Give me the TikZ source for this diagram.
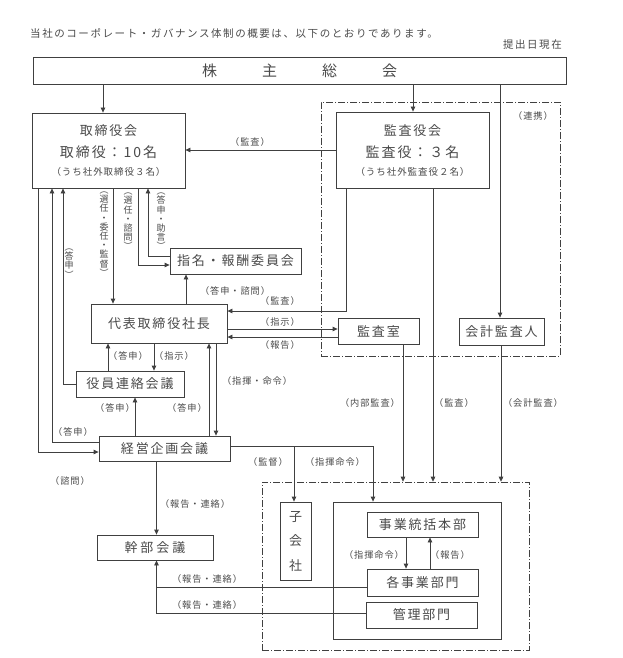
\documentclass[tikz,border=0pt]{standalone}
\usepackage{fontspec}
\usepackage{graphicx}
\setmainfont{Noto Sans CJK JP}
\newfontfamily\jpbox[LetterSpace=14]{Noto Sans CJK JP}
\newfontfamily\jplab[LetterSpace=10]{Noto Sans CJK JP}
\newfontfamily\jphead[LetterSpace=15]{Noto Sans CJK JP}
\newfontfamily\jpplain{Noto Sans CJK JP}
\usetikzlibrary{arrows.meta,calc}
\definecolor{linec}{HTML}{404040}
\definecolor{textc}{HTML}{4A4A4A}
\newcommand\vo{︵}
\newcommand\vc{︶}
\tikzset{
  ln/.style={draw=linec, line width=0.8pt},
  arr/.style={ln, -{Triangle[length=5pt,width=4.5pt]}},
  box/.style={draw=linec, line width=0.8pt, rectangle, inner sep=0pt, text=textc, font=\jpbox\fontsize{13}{15}\selectfont},
  lab/.style={text=textc, inner sep=0pt, font=\jplab\fontsize{9.2}{10}\selectfont},
  vlab/.style={text=textc, inner sep=0pt, align=center, font=\jpplain\fontsize{9}{9.2}\selectfont},
  head/.style={text=textc, inner sep=0pt, font=\jphead\fontsize{10.5}{12}\selectfont},
  ddbox/.style={draw=linec, line width=0.6pt, dash pattern=on 7pt off 2pt on 1pt off 2pt, rectangle, inner sep=0pt}
}
\begin{document}
\begin{tikzpicture}[x=1pt,y=-1pt]
\fill[white] (0,0) rectangle (622,658);
\useasboundingbox (0,0) rectangle (622,658);

% helper coordinates
\foreach \v in {38,52,63,103,108,113,135,138,148,154,186,209,216,294,346,373,403,406,413,430,433,500,501}{\coordinate (x\v) at (\v,0);}
\coordinate (x156) at (156.5,0);
\foreach \v in {150,256,265,311,329,337,442,446,452,587,613}{\coordinate (y\v) at (0,\v);}

% header
\node[head, anchor=west] (hd) at (30,33) {当社のコーポレート・ガバナンス体制の概要は、以下のとおりであります。};
\node[head, anchor=east] (dt) at (562,45) {提出日現在};

% dash-dot frames
\node[ddbox, minimum width=239pt, minimum height=254pt] (d1) at (440.5,229) {};
\node[ddbox, minimum width=267pt, minimum height=168pt] (d2) at (395.5,566) {};

% boxes
\node[box, minimum width=533pt, minimum height=27pt, font=\jpplain\fontsize{15}{17}\selectfont] (sh) at (299.5,70.5) {株\hspace{45pt}主\hspace{45pt}総\hspace{45pt}会};
\node[box, minimum width=153pt, minimum height=75pt, align=center, font=\jpbox\fontsize{13}{18}\selectfont] (tb) at (108.5,150.5)
  {取締役会\\[4pt]{\fontsize{14}{16}\selectfont 取締役：10名}\\{\jplab\fontsize{9.5}{11}\selectfont （うち社外取締役３名）}};
\node[box, minimum width=153pt, minimum height=76pt, align=center, font=\jpbox\fontsize{13}{18}\selectfont] (kb) at (412.5,150)
  {監査役会\\[4pt]{\fontsize{14}{16}\selectfont 監査役：３名}\\{\jplab\fontsize{9.5}{11}\selectfont （うち社外監査役２名）}};
\node[box, minimum width=131pt, minimum height=26pt] (sm) at (235.5,261) {指名・報酬委員会};
\node[box, minimum width=136pt, minimum height=39pt] (dh) at (159,323.5) {代表取締役社長};
\node[box, minimum width=81pt, minimum height=26pt] (ks) at (378.5,331) {監査室};
\node[box, minimum width=85pt, minimum height=27pt] (kk) at (501.5,331.5) {会計監査人};
\node[box, minimum width=108pt, minimum height=26pt] (yr) at (130,384) {役員連絡会議};
\node[box, minimum width=131pt, minimum height=25pt] (kp) at (164.5,448.5) {経営企画会議};
\node[box, minimum width=116pt, minimum height=25pt] (kbk) at (155,547.5) {幹\hspace{3pt}部\hspace{3pt}会\hspace{3pt}議};
\node[box, minimum width=31pt, minimum height=78pt, align=center, font=\jpplain\fontsize{13}{24.5}\selectfont] (kg) at (295.5,541) {子\\会\\社};
\node[box, minimum width=168pt, minimum height=137pt] (ib) at (417,570.5) {};
\node[box, minimum width=111pt, minimum height=25pt] (jt) at (422.5,524.5) {事業統括本部};
\node[box, minimum width=111pt, minimum height=27pt] (kj) at (422.5,582.5) {各事業部門};
\node[box, minimum width=111pt, minimum height=26pt] (kr) at (421.5,615) {管理部門};

% connectors
\draw[arr] (sh.south -| x103) -- (tb.north -| x103);
\draw[arr] (sh.south -| x413) -- (kb.north -| x413);
\draw[arr] (sh.south -| x500) -- (kk.north -| x500);
\draw[arr] (kb.west |- y150) -- (tb.east |- y150);
\draw[arr] (tb.south -| x38) |- (kp.west |- y452);
\draw[arr] (kp.west |- y442) -| (tb.south -| x52);
\draw[arr] (yr.west) -| (tb.south -| x63);
\draw[arr] (tb.south -| x113) -- (dh.north -| x113);
\draw[arr] (tb.south -| x138) |- (sm.west |- y265);
\draw[arr] (sm.west |- y256) -| (tb.south -| x148);
\draw[arr] (dh.north -| x186) -- (sm.south -| x186);
\draw[arr] (kb.south -| x346) |- (dh.east |- y311);
\draw[arr] (dh.east |- y329) -- (ks.west |- y329);
\draw[arr] (ks.west |- y337) -- (dh.east |- y337);
\draw[arr] (dh.south -| x154) -- (yr.north -| x154);
\draw[arr] (yr.north -| x108) -- (dh.south -| x108);
\draw[arr] (kp.north -| x135) -- (yr.south -| x135);
\draw[arr] (kp.north -| x209) -- (dh.south -| x209);
\draw[arr] (dh.south -| x216) -- (kp.north -| x216);
\draw[arr] (kp.south -| x156) -- (kbk.north -| x156);
\draw[arr] (kp.east |- y446) -| (ib.north -| x373);
\draw[arr] (y446 -| x294) -- (kg.north -| x294);
\draw[arr] (kb.south -| x433) -- (d2.north -| x433);
\draw[arr] (ks.south -| x403) -- (d2.north -| x403);
\draw[arr] (kk.south -| x501) -- (d2.north -| x501);
\draw[arr] (jt.south -| x406) -- (kj.north -| x406);
\draw[arr] (kj.north -| x430) -- (jt.south -| x430);
\draw[arr] (kj.west |- y587) -| (kbk.south -| x156);
\draw[ln] (kr.west |- y613) -| (kbk.south -| x156);

% labels
\node[lab] (l1) at (250,142) {（監査）};
\node[lab] (l2) at (533,116) {（連携）};
\node[vlab] (v1) at (69,263.5) {\vo\\答\\申\\\vc};
\node[vlab] (v2) at (104,234) {\vo\\選\\任\\・\\委\\任\\・\\監\\督\\\vc};
\node[vlab] (v3) at (128,221.5) {\vo\\選\\任\\・\\諮\\問\\\vc};
\node[vlab] (v4) at (161,221.5) {\vo\\答\\申\\・\\助\\言\\\vc};
\node[lab] (l3) at (235,291) {（答申・諮問）};
\node[lab] (l4) at (280,301) {（監査）};
\node[lab] (l5) at (280,322) {（指示）};
\node[lab] (l6) at (280,345) {（報告）};
\node[lab] (l7) at (128,356) {（答申）};
\node[lab] (l8) at (174,356) {（指示）};
\node[lab] (l9) at (257,381) {（指揮・命令）};
\node[lab] (l10) at (115,408) {（答申）};
\node[lab] (l11) at (187,408) {（答申）};
\node[lab] (l12) at (73,432) {（答申）};
\node[lab] (l13) at (70,481) {（諮問）};
\node[lab] (l14) at (195,504) {（報告・連絡）};
\node[lab] (l15) at (268,462) {（監督）};
\node[lab] (l16) at (335,462) {（指揮命令）};
\node[lab] (l17) at (370,403) {（内部監査）};
\node[lab] (l18) at (454,403) {（監査）};
\node[lab] (l19) at (533,403) {（会計監査）};
\node[lab] (l20) at (374,555) {（指揮命令）};
\node[lab] (l21) at (450,555) {（報告）};
\node[lab] (l22) at (207,579) {（報告・連絡）};
\node[lab] (l23) at (207,605) {（報告・連絡）};
\end{tikzpicture}
\end{document}
